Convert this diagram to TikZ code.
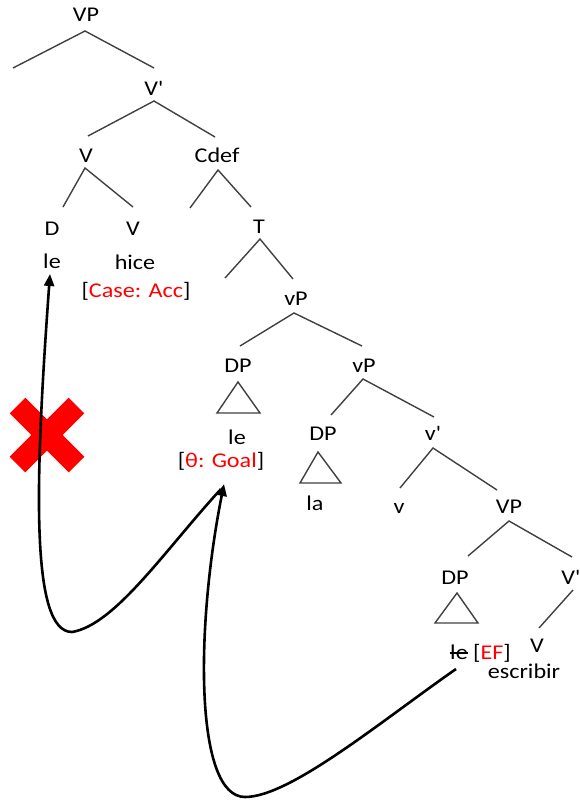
\documentclass[tikz,border=0pt]{standalone}
\usepackage{fontspec}
\newfontfamily\lblfont{Carlito}[FakeStretch=1.15]
\usetikzlibrary{arrows.meta}
\definecolor{treegray}{HTML}{404040}
\definecolor{xred}{HTML}{FF0000}
\begin{document}
\begin{tikzpicture}[x=1pt,y=-1pt,
  lbl/.style={inner sep=0pt, anchor=base, font=\lblfont\fontsize{21}{25}\selectfont},
  branchline/.style={draw=treegray, line width=1.4pt},
  trishape/.style={draw=treegray, line width=1.4pt, line join=miter},
  movearrow/.style={draw=black, line width=2.6pt, -{Triangle[length=12pt,width=10pt]}},
  redx/.style={draw=xred, line width=22pt, line cap=butt}]
\useasboundingbox (0,0) rectangle (579,800);

% ---------- labels ----------
\node[lbl] (nVP)    at (86,22)  {VP};
\node[lbl] (nVbar)  at (154,95) {V'};
\node[lbl] (nV)     at (86,162) {V};
\node[lbl] (nCdef)  at (217,162) {Cdef};
\node[lbl] (nD)     at (52,235) {D};
\node[lbl] (nVv)    at (133,235) {V};
\node[lbl] (nT)     at (259,233) {T};
\node[lbl] (nleA)   at (52,268) {le};
\node[lbl] (nhice)  at (135,269) {hice};
\node[lbl] (ncase)  at (136,297) {[\textcolor{xred}{Case: Acc}]};
\node[lbl] (nvPA)   at (296,305) {vP};
\node[lbl] (nDPA)   at (238,372) {DP};
\node[lbl] (nvPB)   at (364,372) {vP};
\node[lbl] (nleB)   at (237,444) {le};
\node[lbl] (ngoal)  at (221,467) {[\textcolor{xred}{θ: Goal}]};
\node[lbl] (nDPB)   at (323,440) {DP};
\node[lbl] (nvbar)  at (433,440) {v'};
\node[lbl] (nla)    at (315,510) {la};
\node[lbl] (nv)     at (399,513) {v};
\node[lbl] (nVPC)   at (509,513) {VP};
\node[lbl] (nDPC)   at (455,584) {DP};
\node[lbl] (nVbarC) at (571,584) {V'};
\node[lbl] (nV3)    at (537,652) {V};
\node[lbl] (nleC)   at (459,659) {le};
\node[lbl] (nEF)    at (492,659) {[\textcolor{xred}{EF}]};
\node[lbl] (nescr)  at (524,678) {escribir};

% strike-through of the lower copy of "le"
\draw[line width=1.3pt] ([yshift=6pt]nleC.base west) -- ([yshift=6pt]nleC.base east);

% ---------- branch points ----------
\coordinate (a1) at (85,31);  \coordinate (a1l) at (13,68);  \coordinate (a1r) at (154,68);
\coordinate (a2) at (154,101); \coordinate (a2l) at (88,136); \coordinate (a2r) at (215,137);
\coordinate (a3) at (85,168); \coordinate (a3l) at (63,207); \coordinate (a3r) at (133,207);
\coordinate (a4) at (218,170); \coordinate (a4l) at (190,208); \coordinate (a4r) at (251,207);
\coordinate (a5) at (260,239); \coordinate (a5l) at (225,278); \coordinate (a5r) at (293,279);
\coordinate (a6) at (294,313); \coordinate (a6l) at (240,346); \coordinate (a6r) at (362,346);
\coordinate (a7) at (363,379); \coordinate (a7l) at (331,415); \coordinate (a7r) at (434,417);
\coordinate (a8) at (433,448); \coordinate (a8l) at (400,488); \coordinate (a8r) at (497,490);
\coordinate (a9) at (509,521); \coordinate (a9l) at (468,556); \coordinate (a9r) at (572,557);
\coordinate (a10) at (573,590); \coordinate (a10l) at (539,628);

\foreach \p in {a1,a2,a3,a4,a5,a6,a7,a8,a9}{
  \draw[branchline] (\p l) -- (\p) -- (\p r);
}
\draw[branchline] (a10) -- (a10l);

% ---------- triangles ----------
\draw[trishape] (238,382) -- (217,413) -- (260,413) -- cycle;
\draw[trishape] (318,452) -- (300,483) -- (341,483) -- cycle;
\draw[trishape] (457,593) -- (435,623) -- (478,623) -- cycle;

% ---------- red cross ----------
\draw[redx] (17.5,405.5) -- (76.5,464.5);
\draw[redx] (76.5,405.5) -- (17.5,464.5);

% ---------- movement arrows ----------
\coordinate (mvStart) at (456,669);
\coordinate (goalTip) at (224,484);
\coordinate (goalFoot) at (221,489);
\coordinate (leTip) at (50,274);

\draw[movearrow] (mvStart) .. controls (380,722) and (290,797) .. (245,797)
   .. controls (195,797) and (195,630) .. (goalTip);
\draw[movearrow] (goalFoot) .. controls (165,550) and (115,625) .. (72,632)
   .. controls (30,632) and (35,480) .. (leTip);
\end{tikzpicture}
\end{document}
